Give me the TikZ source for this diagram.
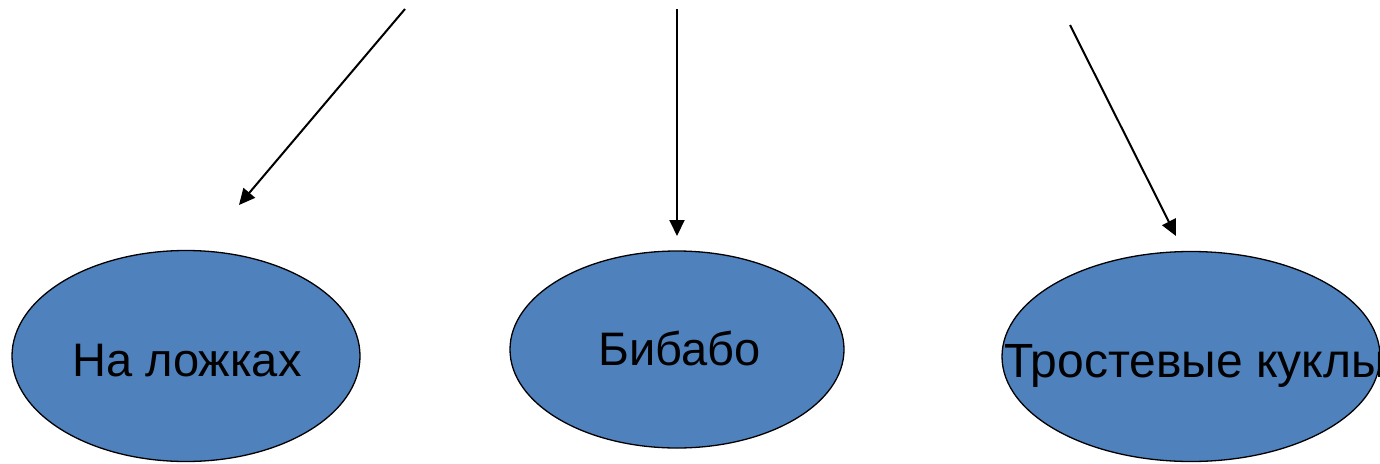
\documentclass[tikz,border=0pt]{standalone}
\usepackage{fontspec}
\setmainfont{Liberation Sans}
\usetikzlibrary{shapes.geometric,arrows.meta}
\definecolor{ovalblue}{HTML}{4F81BD}
\tikzset{
  oval/.style={ellipse, draw=black, line width=1.3pt, fill=ovalblue, inner sep=0pt},
  lbl/.style={anchor=base west, inner sep=0pt, font=\fontsize{47}{50}\selectfont},
  arr/.style={line width=2pt, -{Triangle[length=16pt,width=15pt]}}
}
\begin{document}
\begin{tikzpicture}[x=1pt,y=-1pt]
\useasboundingbox (0,0) rectangle (1380,463);
\node[oval, minimum width=348pt, minimum height=211pt] (o1) at (186,356) {};
\node[oval, minimum width=334pt, minimum height=197pt] (o2) at (677,349.5) {};
\node[oval, minimum width=378pt, minimum height=210pt] (o3) at (1191,356.5) {};
\node[lbl] (t1) at (72,376) {На ложках};
\node[lbl] (t2) at (598,365) {Бибабо};
\node[lbl, font=\fontsize{48}{51}\selectfont] (t3) at (1004,377) {Тростевые куклы};
\coordinate (a1s) at (405,9);
\coordinate (a1e) at (239,205);
\coordinate (a2s) at (677,9);
\coordinate (a2e) at (677,236);
\coordinate (a3s) at (1070,25);
\coordinate (a3e) at (1176,236);
\draw[arr] (a1s) -- (a1e);
\draw[arr] (a2s) -- (a2e);
\draw[arr] (a3s) -- (a3e);
\end{tikzpicture}
\end{document}
